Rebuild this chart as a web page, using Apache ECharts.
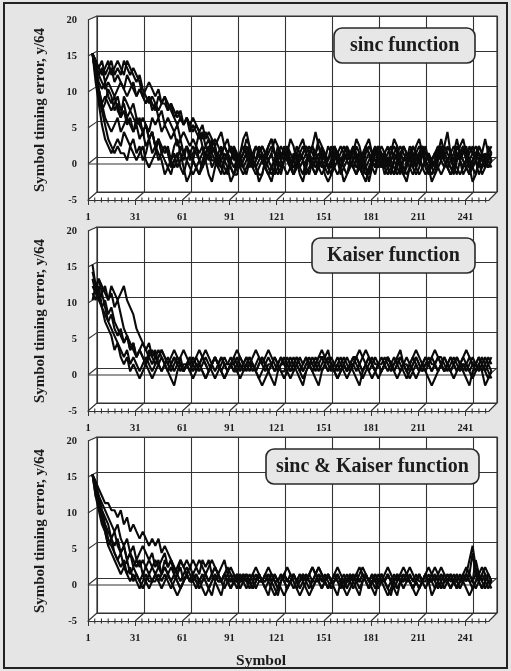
<!DOCTYPE html>
<html><head><meta charset="utf-8">
<script src="https://cdn.jsdelivr.net/npm/echarts@6/dist/echarts.min.js"></script>
<style>html,body{margin:0;padding:0;background:#e5e5e5}#c{width:511px;height:671px}</style>
</head><body><div id="c"></div>
<script>
// ---------------- DATA ----------------
const panelTitles = ['sinc function', 'Kaiser function', 'sinc & Kaiser function'];
const yTickValues = [-5, 0, 5, 10, 15, 20];
const xTickLabels = [1, 31, 61, 91, 121, 151, 181, 211, 241];
const symbolCount = 256;
const SYMBOL_STEP = 2; // values are read at every second symbol: 1, 3, 5, ...

// panel 1: sinc function
const sincA = [15,12,10,7,5,3,2,1,2,1,1,0,2,1,0,1, 2,0,-1,0,1,3,1,0,-1,-2,0,1,1,0,2,1, 0,-1,-2,-1,1,2,0,0,-1,1,2,1,-1,-2,-2,0, 1,3,2,0,-1,0,1,-1,-2,-3,-1,0,1,1,0,-1, 0,2,1,0,-2,-1,0,1,3,2,0,-1,-1,1,0,-2, -1,0,1,2,0,-1,-2,0,1,0,-1,1,2,1,0,-1, -2,-1,1,0,0,2,1,-1,-2,-1,0,1,0,-1,1,3, 1,0,-1,-2,0,1,2,0,-1,0,1,0,-2,-1,1,2];
const sincB = [15,14,13,14,12,13,14,12,13,12,14,13,12,13,12,11, 9,8,9,8,7,9,8,8,7,8,6,5,6,5,6,5, 6,5,4,5,3,4,3,2,3,4,2,3,1,2,0,1, 2,1,0,-1,0,1,2,1,0,1,-1,-2,-1,0,2,1, 0,-1,1,2,1,0,-1,-2,-1,0,1,0,2,1,0,-1, 0,1,0,-1,-2,-1,0,2,3,1,0,-1,0,1,0,-1, -2,0,1,2,1,0,-1,0,1,-1,-2,-1,0,1,2,1, 0,-1,0,1,3,1,0,-1,-2,-1,0,2,1,0,-1,0];
const sincC = [15,13,12,13,11,12,13,11,12,11,10,12,11,10,9,10, 9,8,9,7,8,6,7,5,6,5,4,5,3,4,3,2, 3,2,1,2,0,1,2,1,0,-1,0,1,2,0,1,-1, -2,-1,0,1,0,2,1,0,-1,-2,-1,1,2,1,0,-1, 0,1,-1,-2,0,1,2,1,0,-1,0,2,1,-1,-2,-1, 0,1,0,2,1,-1,-2,-3,-1,0,1,2,1,0,-1,0, 1,0,-1,-2,-1,1,2,1,0,1,-1,-2,0,1,0,2, 1,0,-1,-1,0,2,3,1,0,-1,-2,0,1,0,1,0];
const sincD = [15,13,11,10,11,9,8,9,7,6,7,5,6,4,5,3, 4,2,3,1,2,0,1,2,1,-1,0,1,-1,-2,0,1, 2,1,0,-1,0,1,3,2,0,-1,-2,-1,0,1,0,-1, 0,1,2,0,-1,-2,-2,0,1,2,1,0,-1,0,1,-1, -2,-1,0,1,2,1,-1,0,1,0,-2,-3,-2,0,1,2, 1,0,-1,0,2,1,0,-1,-2,0,1,0,-1,1,2,0, -1,-2,-1,0,1,0,2,1,0,-1,0,1,-1,-2,-1,0, 2,1,0,-1,1,0,-1,0,2,1,0,-2,-1,0,1,0];
const sincE = [15,12,10,8,6,5,4,5,6,4,5,6,5,4,6,5, 4,5,3,4,2,3,2,1,2,0,1,-1,0,1,2,1, 0,-1,-2,0,1,2,1,0,-1,0,1,0,-1,-2,-1,0, 1,2,1,-1,0,1,0,-1,-2,-1,0,2,1,0,1,-1, 0,1,2,3,1,0,-1,-2,0,1,0,-1,0,2,1,0, -1,-2,-1,0,1,0,-1,1,2,1,0,-1,0,1,-1,-2, 0,1,2,1,0,-1,-2,-1,0,2,1,0,-1,0,1,2, 0,-1,-2,-1,1,0,1,2,0,-1,0,1,0,-1,2,1];
const sincF = [15,14,12,11,10,11,10,9,10,11,10,9,10,11,9,10, 9,10,11,10,9,10,8,9,7,8,7,6,7,5,6,4, 5,4,3,4,2,3,1,2,0,1,2,1,0,-1,0,1, -1,-2,0,1,2,1,0,-1,0,1,3,2,0,-1,-2,-1, 1,0,-1,0,1,2,1,0,-1,-2,-1,0,1,2,0,-1, 0,1,0,-1,-2,0,1,2,1,0,-1,0,1,-1,-2,-1, 0,1,0,2,1,0,-1,-2,-1,1,2,0,-1,0,1,0, -1,0,1,2,1,0,-2,-1,0,1,2,1,0,-1,0,1];
const sincG = [15,11,8,5,3,2,1,2,3,2,4,3,2,3,1,2, 0,1,3,4,2,1,0,-2,-1,0,2,3,1,-1,-3,-2, 0,2,4,2,0,-2,-3,-1,1,2,0,-1,-3,-2,0,1, 3,4,2,0,-1,-3,-2,0,2,3,1,-1,-2,0,1,3, 2,0,-2,-3,-1,1,2,4,2,0,-1,-2,0,2,1,-1, -3,-2,0,1,3,2,0,-1,-3,-1,1,2,0,-2,-1,1, 3,2,0,-2,-3,-1,0,2,3,1,0,-1,-3,-2,0,1, 2,4,1,-1,-2,0,2,1,-1,-3,-2,0,1,3,1,0];
const sincH = [15,13,10,8,9,8,7,8,9,7,8,6,7,8,6,5, 6,5,4,6,5,6,4,5,4,3,4,2,3,1,2,0, 1,2,0,-1,1,0,2,1,-1,-2,0,1,2,1,0,-1, 0,1,-1,0,2,1,0,-1,-2,-1,0,1,0,2,1,-1, -2,0,1,0,-1,1,2,0,-1,0,1,-1,-2,-1,0,1, 2,1,0,-1,0,1,0,2,1,-1,-2,0,1,0,-1,0, 1,2,0,-1,-2,-1,1,0,1,2,0,-1,0,1,-1,-2, -1,0,1,0,2,1,0,-1,-2,0,1,0,-1,1,0,-1];
const sincI = [15,14,13,12,13,14,12,13,14,13,12,14,13,12,11,12, 10,9,8,9,8,7,8,9,8,7,6,7,6,5,6,5, 4,5,4,3,4,3,2,3,2,1,2,1,0,1,-1,0, 1,2,0,-1,0,1,2,1,0,-1,-2,-1,0,1,2,0, -1,0,1,0,-1,-2,0,1,2,1,0,-1,0,1,0,-1, 1,2,1,0,-1,0,-2,-1,0,1,2,0,-1,0,1,2, 0,-1,-2,0,1,0,-1,1,2,1,0,-1,-2,-1,0,1, 0,2,1,0,-1,-2,-1,0,1,2,0,-1,1,0,-1,0];
const sincJ = [15,12,9,7,8,10,9,7,8,6,9,8,7,6,5,6, 4,5,3,4,2,3,1,2,1,0,-1,0,2,1,0,-1, -2,-1,0,1,2,1,-1,0,1,0,-1,-2,0,2,1,0, -1,0,1,-1,-2,-1,0,1,2,3,1,0,-1,0,1,0, -2,-1,0,1,2,1,0,-1,0,2,1,-1,-2,0,1,0, 1,2,0,-1,0,1,-1,-2,-1,0,2,1,0,-1,0,1, 2,1,-1,-2,0,1,0,-1,1,2,1,0,-1,0,2,1, 0,-1,-2,-1,0,1,2,0,-1,0,1,2,1,-1,0,1];

// panel 2: Kaiser function
const kaiserA = [15,12,10,11,9,7,6,5,4,3,2,3,1,2,1,0, 1,2,1,0,1,2,3,2,1,0,1,2,1,0,1,1, 2,1,0,1,2,1,0,-1,0,1,2,1,1,0,1,2, 1,0,1,2,3,2,1,0,1,1,2,1,0,-1,0,1, 2,1,0,1,2,1,0,1,2,2,1,0,1,0,-1,0, 1,2,1,1,0,1,2,3,2,1,0,1,2,1,0,1, 1,2,1,0,-1,0,1,2,1,0,1,2,1,1,0,1, 2,1,0,1,2,1,0,-1,-2,0,1,2,1,0,1,2];
const kaiserB = [12,11,13,12,11,10,12,11,10,11,12,10,9,8,6,5, 4,3,4,2,3,1,2,1,0,1,2,1,2,0,1,0, 1,2,1,0,-1,0,1,2,1,0,1,1,2,1,0,1, 0,1,2,1,0,1,2,1,0,-1,-2,0,1,2,1,0, 1,2,1,0,1,1,2,1,0,1,2,3,1,0,1,0, 1,0,1,2,1,0,-1,0,1,2,1,1,0,1,2,1, 0,1,2,1,0,1,0,-1,0,1,2,1,0,1,2,2, 1,0,1,2,1,0,1,1,2,1,0,1,0,1,2,1];
const kaiserC = [11,10,12,9,8,7,8,6,5,6,4,5,3,4,2,3, 2,1,2,3,2,1,0,1,2,1,0,1,2,3,2,1, 0,1,1,2,1,0,1,2,1,0,-1,0,1,2,1,0, 1,2,1,1,0,1,2,1,0,1,2,1,0,0,1,2, 1,0,-1,-2,0,1,1,2,1,0,1,2,1,0,1,2, 1,0,1,2,2,1,0,1,2,1,0,-1,0,1,2,1, 0,1,2,1,1,0,1,2,1,0,1,1,2,3,2,1, 0,1,2,1,0,1,2,1,0,1,1,2,1,0,-1,0];
const kaiserD = [10,12,11,9,10,8,9,7,6,5,4,5,3,4,2,3, 4,3,2,1,2,3,2,1,0,1,2,1,0,1,1,2, 1,0,1,2,3,2,1,0,1,2,1,0,1,1,2,1, 0,1,2,1,0,-1,0,1,2,1,0,1,2,1,1,0, 1,2,1,0,1,2,1,0,1,2,2,1,0,1,2,1, 0,-1,0,1,2,1,0,1,2,1,0,1,1,2,1,0, 1,2,3,1,0,1,2,1,0,1,2,1,0,1,0,1, 2,1,0,1,2,1,1,0,1,2,1,0,1,2,1,0];
const kaiserE = [13,11,10,9,7,6,5,3,4,2,1,2,0,1,0,-1, 0,1,0,-1,0,1,0,1,0,-1,-2,0,1,0,1,0, -1,0,1,0,-1,0,1,2,1,0,-1,0,1,0,0,-1, 0,1,0,1,0,-1,-2,-1,0,1,0,1,2,1,0,-1, 0,1,0,-1,0,1,0,-1,-2,0,1,0,1,0,-1,0, 1,0,1,0,-1,-2,0,1,0,-1,0,1,0,1,2,1, 0,-1,0,1,0,-1,0,1,0,1,0,-1,-2,-1,0,1, 0,1,0,-1,0,1,0,1,0,-1,0,1,0,-2,-1,0];
const kaiserF = [14,12,13,11,12,10,11,9,10,8,6,5,4,3,2,3, 2,1,3,2,1,2,3,2,1,2,3,2,1,0,1,2, 1,2,3,2,1,0,1,2,1,2,1,0,1,2,3,2, 1,2,1,0,1,2,1,2,3,2,1,0,1,1,2,1, 0,1,2,1,2,1,0,1,2,3,2,1,2,1,0,1, 2,1,0,1,2,3,2,1,0,1,2,1,0,1,2,1, 2,1,0,1,2,1,2,3,2,1,0,1,2,1,2,1, 0,1,2,1,0,1,2,3,2,1,0,1,2,1,0,-1];

// panel 3: sinc & Kaiser function
const bothA = [15,13,11,9,7,5,4,3,2,1,2,1,0,1,0,-1, 0,1,0,0,1,0,-1,0,1,2,1,0,-1,0,1,0, 0,1,0,-1,-2,-1,0,1,0,0,1,0,-1,0,1,0, 1,0,0,-1,0,1,0,1,0,-1,-2,-1,0,1,0,0, 1,0,-1,0,1,0,0,1,2,1,0,-1,0,1,0,-1, 0,0,1,0,-1,-2,0,1,0,1,0,-1,0,0,1,0, -1,0,1,0,1,0,-1,-2,-1,0,1,0,0,1,0,-1, 0,1,0,0,-1,0,1,2,1,4,1,0,1,0,-1,0];
const bothB = [15,14,13,12,11,11,10,10,9,10,8,9,7,8,7,6, 7,6,5,6,5,6,4,5,4,3,2,1,2,0,1,0, 1,0,-1,0,1,0,1,2,1,0,-1,0,1,0,0,1, 0,-1,0,1,0,1,0,-1,-2,0,1,0,1,0,-1,0, 1,0,0,1,0,-1,0,1,2,1,0,-1,0,1,0,0, -1,0,1,0,1,2,1,0,-1,0,0,1,0,-1,-2,-1, 0,1,0,1,0,0,-1,0,1,0,1,2,1,0,-1,0, 1,0,-1,0,1,0,0,1,0,-1,0,1,2,1,0,0];
const bothC = [15,13,12,10,9,8,6,7,5,4,5,3,4,2,3,2, 3,2,1,2,3,2,1,3,2,3,1,2,3,2,1,2, 3,2,1,3,2,3,1,2,1,0,1,0,-1,0,1,0, 0,1,0,-1,0,1,0,0,1,0,-1,-2,0,1,0,1, 0,-1,0,1,0,1,2,1,0,-1,0,1,0,0,1,0, -1,-2,-1,0,1,0,1,0,-1,0,1,0,0,1,2,1, 0,-1,0,0,1,0,-1,0,1,0,1,0,-2,-1,0,1, 0,0,1,0,-1,0,1,0,1,0,3,1,0,-1,0,0];
const bothD = [15,12,10,8,7,5,6,4,3,4,2,3,1,2,1,0, 1,0,-1,0,1,0,1,2,1,0,-1,-2,-1,0,1,0, 0,1,0,1,0,-1,0,1,0,0,1,2,1,0,-1,0, 1,0,1,0,-1,0,0,1,0,1,0,-1,0,1,2,1, 0,-1,-2,-1,0,1,0,0,1,0,1,0,-1,0,1,0, 0,1,0,-1,0,1,2,1,0,0,-1,0,1,0,1,0, -1,-2,0,1,0,1,0,0,-1,0,1,0,1,2,1,0, -1,0,1,0,0,1,0,-1,-2,-1,0,1,0,1,0,-1];
const bothE = [15,14,12,11,10,9,8,7,8,6,5,6,4,5,3,4, 5,4,3,4,2,3,1,2,1,0,1,0,-1,0,1,0, 1,0,0,1,0,-1,-2,0,1,0,1,0,0,1,0,-1, 0,1,0,1,2,1,0,-1,0,1,0,0,1,0,-1,0, 1,0,1,0,-1,-2,-1,0,1,0,0,1,0,1,2,1, 0,-1,0,1,0,0,1,0,-1,0,1,0,1,0,-1,-2, 0,1,0,0,1,2,1,0,-1,0,1,0,0,1,0,-1, 0,1,0,1,0,-1,0,1,0,0,1,0,-1,0,1,0];
const bothF = [15,13,11,10,8,6,5,4,3,2,3,1,2,0,1,0, -1,0,1,0,0,1,0,1,0,-1,0,1,0,1,2,1, 0,-1,0,0,1,0,1,0,-1,-2,0,1,0,0,1,0, 1,0,-1,0,1,0,0,1,2,1,0,-1,0,1,0,0, -1,0,1,0,1,0,-1,0,0,1,0,1,0,-1,-2,0, 1,0,0,1,0,-1,0,1,0,1,0,0,1,0,-1,0, 1,0,1,2,1,0,-1,0,1,0,0,1,0,-1,0,1, 0,0,1,0,-1,0,1,0,1,0,-1,0,1,2,1,0];
const bothG = [15,12,11,9,8,7,6,5,6,4,5,3,4,3,2,3, 1,2,3,2,1,2,3,4,2,3,2,1,3,2,3,2, 1,2,3,2,1,2,3,2,1,2,3,1,2,1,0,1, 0,1,0,-1,0,1,0,0,1,0,1,0,-1,-2,-1,0, 1,0,0,1,0,1,2,1,0,-1,0,1,0,0,1,0, -1,0,1,0,1,0,0,1,0,-1,-2,0,1,0,1,0, 0,1,0,-1,0,1,0,1,0,0,-1,0,1,0,1,2, 1,0,-1,0,1,0,0,1,3,5,2,0,-1,0,1,0];

const panelSeries = [
  [sincA, sincB, sincC, sincD, sincE, sincF, sincG, sincH, sincI, sincJ],
  [kaiserA, kaiserB, kaiserC, kaiserD, kaiserE, kaiserF],
  [bothA, bothB, bothC, bothD, bothE, bothF, bothG]
];

// ---------------- LAYOUT / STYLE ----------------
const FONT = "'Liberation Serif', 'Times New Roman', serif";
const INK = '#1c1c1c';
const GRIDC = '#333333';
const panelTops = [16, 227, 437];
const titleBoxes = [
  {left: 334, top: 28, pad: 16},
  {left: 312, top: 238, pad: 15},
  {left: 266, top: 449, pad: 10}
];
const XMAX = symbolCount - 1; // axis value = symbol - 1

const chart = echarts.init(document.getElementById('c'), null, {renderer: 'canvas'});
const grid = [], xAxis = [], yAxis = [], series = [], title = [];

panelTops.forEach((T, p) => {
  grid.push({left: 97, top: T, width: 400, height: 176, show: true, borderColor: GRIDC, borderWidth: 1.2, backgroundColor: 'transparent'});
  grid.push({left: 92.5, top: T + 2, width: 400.5, height: 178});
  grid.push({left: 88, top: T + 4, width: 401, height: 180});
  const g0 = 3 * p;
  xAxis.push({gridIndex: g0, type: 'value', min: 0, max: XMAX, interval: 30,
    axisLine: {show: false}, axisTick: {show: false}, axisLabel: {show: false},
    splitLine: {show: true, lineStyle: {color: GRIDC, width: 1.1}}});
  yAxis.push({gridIndex: g0, type: 'value', min: -5, max: 20, interval: 5,
    axisLine: {show: false}, axisTick: {show: false}, axisLabel: {show: false},
    splitLine: {show: true, lineStyle: {color: GRIDC, width: 1.1}}});
  xAxis.push({gridIndex: g0 + 1, type: 'value', min: 0, max: XMAX, show: false});
  yAxis.push({gridIndex: g0 + 1, type: 'value', min: -5, max: 20, show: false});
  xAxis.push({gridIndex: g0 + 2, type: 'value', min: 0, max: XMAX, interval: 30, position: 'bottom',
    axisLine: {show: true, onZero: false, lineStyle: {color: GRIDC, width: 1.2}},
    axisTick: {show: true, length: 5, lineStyle: {color: GRIDC}},
    axisLabel: {show: true, margin: 12, fontFamily: FONT, fontWeight: 'bold', fontSize: 10.5, color: INK,
      showMaxLabel: false,
      formatter: v => (xTickLabels.indexOf(v + 1) >= 0 ? String(v + 1) : '')},
    splitLine: {show: false},
    name: p === 2 ? 'Symbol' : '', nameLocation: 'middle', nameGap: 32,
    nameTextStyle: {fontFamily: FONT, fontWeight: 'bold', fontSize: 15.5, color: INK, padding: [0, 55, 0, 0]}});
  yAxis.push({gridIndex: g0 + 2, type: 'value', min: -5, max: 20, interval: 5,
    axisLine: {show: true, lineStyle: {color: GRIDC, width: 1.2}},
    axisTick: {show: false},
    axisLabel: {show: true, margin: 11, fontFamily: FONT, fontWeight: 'bold', fontSize: 10.5, color: INK,
      padding: [5, 0, 0, 0],
      formatter: v => (yTickValues.indexOf(v) >= 0 ? String(v) : '')},
    splitLine: {show: false},
    name: 'Symbol timing error, y/64', nameLocation: 'middle', nameGap: 40,
    nameTextStyle: {fontFamily: FONT, fontWeight: 'bold', fontSize: 15, color: INK}});

  panelSeries[p].forEach((vals) => {
    series.push({
      type: 'line', xAxisIndex: g0 + 1, yAxisIndex: g0 + 1,
      data: vals.map((v, i) => [i * SYMBOL_STEP, v]),
      showSymbol: false, symbol: 'none', silent: true, animation: false,
      lineStyle: {color: '#0a0a0a', width: 2.1}, z: 3
    });
  });

  const tb = titleBoxes[p];
  title.push({text: panelTitles[p], left: tb.left, top: tb.top,
    padding: [6, tb.pad], backgroundColor: '#e7e7e7', borderColor: '#2a2a2a', borderWidth: 1.6, borderRadius: 8,
    textStyle: {fontFamily: FONT, fontWeight: 'bold', fontSize: 20, lineHeight: 23, color: INK}, z: 8});
});

chart.setOption({
  backgroundColor: '#e5e5e5',
  animation: false,
  title, grid, xAxis, yAxis, series
});

// ---------- 3D box decoration computed through the axes ----------
const graphics = [];
panelTops.forEach((T, p) => {
  const g0 = 3 * p;
  const B = (x, y) => chart.convertToPixel({xAxisIndex: g0, yAxisIndex: g0}, [x, y]);
  const F = (x, y) => chart.convertToPixel({xAxisIndex: g0 + 2, yAxisIndex: g0 + 2}, [x, y]);
  graphics.push({type: 'polygon', z: -5, silent: true,
    shape: {points: [F(0, 20), B(0, 20), B(XMAX, 20), B(XMAX, -5), F(XMAX, -5), F(0, -5)]},
    style: {fill: '#ffffff', stroke: 'none'}});
  const seg = (a, b, w) => graphics.push({type: 'line', z: 1, silent: true,
    shape: {x1: a[0], y1: a[1], x2: b[0], y2: b[1]}, style: {stroke: GRIDC, lineWidth: w || 1.1}});
  for (let v = 0; v <= XMAX; v += 30) seg(F(v, -5), B(v, -5));
  seg(F(XMAX, -5), B(XMAX, -5));
  for (let y = 0; y <= 20; y += 5) seg(F(0, y), B(0, y));
  seg(F(0, 0), F(XMAX, 0));
  seg(F(XMAX, 0), B(XMAX, 0));
  for (let k = 1; k * 30 / 7 <= XMAX; k++) {
    if (k % 7 === 0) continue;
    const pt = F(k * 30 / 7, -5);
    seg([pt[0], pt[1] - 2.5], [pt[0], pt[1] + 2.5]);
  }
});
graphics.push({type: 'rect', z: 10, silent: true, shape: {x: 4, y: 3, width: 503, height: 665},
  style: {fill: 'none', stroke: '#222', lineWidth: 2}});
chart.setOption({graphic: graphics});
</script></body></html>
